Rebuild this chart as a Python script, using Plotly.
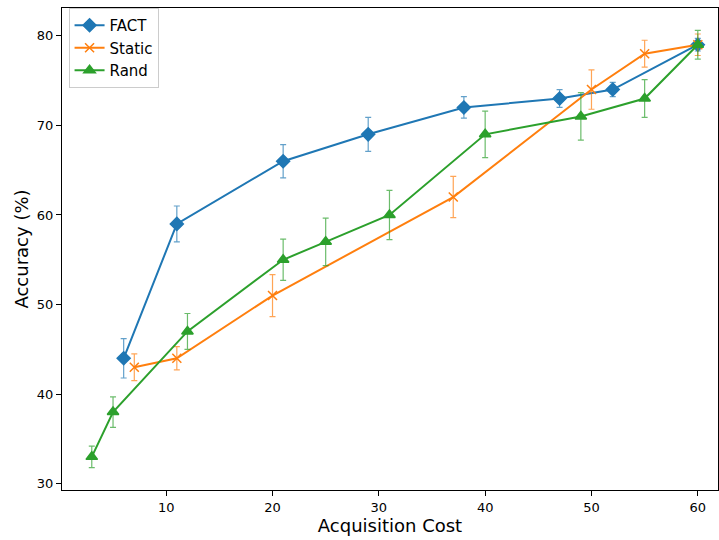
import plotly.graph_objects as go

fact_x = [6, 11, 21, 29, 38, 47, 52, 60]
fact_y = [44, 59, 66, 69, 72, 73, 74, 79]
fact_err = [2.2, 2.0, 1.85, 1.9, 1.2, 1.0, 0.8, 0.7]

static_x = [7, 11, 20, 37, 50, 55, 60]
static_y = [43, 44, 51, 62, 74, 78, 79]
static_err = [1.5, 1.3, 2.35, 2.3, 2.2, 1.5, 1.2]

rand_x = [3, 5, 12, 21, 25, 31, 40, 49, 55, 60]
rand_y = [33, 38, 47, 55, 57, 60, 69, 71, 73, 79]
rand_err = [1.2, 1.7, 2.0, 2.3, 2.65, 2.75, 2.6, 2.65, 2.1, 1.6]

series = [
    ("FACT", fact_x, fact_y, fact_err, "#1f77b4", "rgba(31,119,180,0.7)", "diamond", 10),
    ("Static", static_x, static_y, static_err, "#ff7f0e", "rgba(255,127,14,0.7)", "x-thin-open", 9),
    ("Rand", rand_x, rand_y, rand_err, "#2ca02c", "rgba(44,160,44,0.7)", "triangle-up", 10),
]

fig = go.Figure()
for name, x, y, e, col, ecol, sym, sz in series:
    fig.add_trace(go.Scatter(
        x=x, y=y, name=name, mode="lines+markers",
        line=dict(color=col, width=2),
        marker=dict(symbol=sym, size=sz, color=col, line=dict(color=col, width=1.5)),
        error_y=dict(type="data", array=e, visible=True, color=ecol, thickness=1.2, width=3),
    ))

axis_common = dict(
    showline=True, linecolor="black", linewidth=1, mirror=True,
    ticks="outside", ticklen=5, tickwidth=1, tickcolor="black",
    showgrid=False, zeroline=False,
    tickfont=dict(family="DejaVu Sans", size=13, color="black"),
)

fig.update_layout(
    width=719, height=540,
    margin=dict(l=62, r=1, t=8, b=50),
    paper_bgcolor="white", plot_bgcolor="white",
    font=dict(family="DejaVu Sans", color="black"),
    xaxis=dict(**axis_common, range=[0.2, 61.9], tickvals=[10, 20, 30, 40, 50, 60],
               title=dict(text="Acquisition Cost", font=dict(size=18), standoff=5)),
    yaxis=dict(**axis_common, range=[29.3, 83.1], tickvals=[30, 40, 50, 60, 70, 80],
               title=dict(text="Accuracy (%)", font=dict(size=18), standoff=3)),
    legend=dict(x=0.01, y=1.0, xanchor="left", yanchor="top",
                bgcolor="rgba(255,255,255,0.8)", bordercolor="#cccccc", borderwidth=1,
                font=dict(size=15, family="DejaVu Sans"), tracegroupgap=0),
    showlegend=True,
)

fig.write_html("out.html")
